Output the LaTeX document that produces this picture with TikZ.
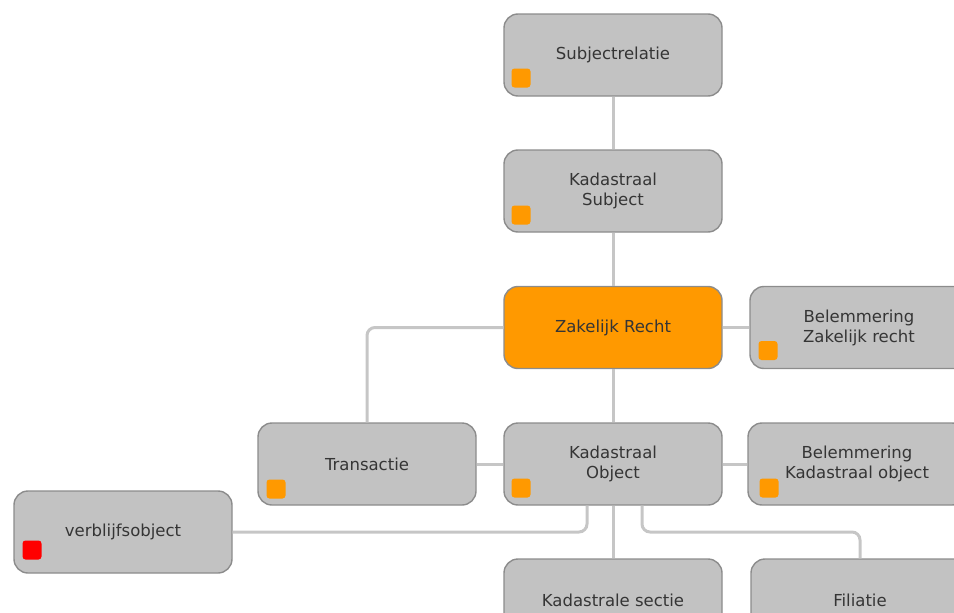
\documentclass[tikz,border=0pt]{standalone}
\usepackage{fontspec}
\setmainfont{DejaVu Sans}
\definecolor{boxgray}{HTML}{C2C2C2}
\definecolor{boxline}{HTML}{8C8C8C}
\definecolor{linkgray}{HTML}{C6C6C6}
\definecolor{txtgray}{HTML}{353535}
\definecolor{zrorange}{HTML}{FF9900}
\definecolor{flagred}{HTML}{FF0000}
\tikzset{
  entity/.style={rectangle, rounded corners=14pt, draw=boxline, line width=1.4pt,
    fill=boxgray, minimum width=218pt, minimum height=82pt, align=center,
    text=txtgray, font=\fontsize{16.5}{20}\selectfont},
  flag/.style={rectangle, rounded corners=3pt, fill=zrorange, inner sep=0pt,
    minimum size=19pt, anchor=south west},
  link/.style={draw=linkgray, line width=3pt, rounded corners=8pt}
}
\begin{document}
\begin{tikzpicture}[x=1pt, y=-1pt]
    \useasboundingbox (0,0) rectangle (954,613);
    \clip (0,0) rectangle (954,613);

    \node[entity] (sr) at (613,55) {Subjectrelatie};
    \node[flag] (sr-f) at ([shift={(8,-9)}]sr.south west) {};

    \node[entity] (ks) at (613,191) {Kadastraal\\Subject};
    \node[flag] (ks-f) at ([shift={(8,-8)}]ks.south west) {};

    \node[entity, fill=zrorange] (zr) at (613,327.5) {Zakelijk Recht};

    \node[entity] (bzr) at (859,327.5) {Belemmering\\Zakelijk recht};
    \node[flag] (bzr-f) at ([shift={(9,-9)}]bzr.south west) {};

    \node[entity] (tr) at (367,464) {Transactie};
    \node[flag] (tr-f) at ([shift={(9,-7)}]tr.south west) {};

    \node[entity] (ko) at (613,464) {Kadastraal\\Object};
    \node[flag] (ko-f) at ([shift={(8,-8)}]ko.south west) {};

    \node[entity] (bko) at (857,464) {Belemmering\\Kadastraal object};
    \node[flag] (bko-f) at ([shift={(12,-8)}]bko.south west) {};

    \node[entity] (vo) at (123,532) {verblijfsobject};
    \node[flag, fill=flagred] (vo-f) at ([shift={(9,-14)}]vo.south west) {};

    \node[entity] (ksec) at (613,600) {Kadastrale sectie};

    \node[entity] (fil) at (860,600) {Filiatie};

    \draw[link] (sr) -- (ks);
    \draw[link] (ks) -- (zr);
    \draw[link] (zr) -- (bzr);
    \draw[link] (zr) -- (ko);
    \draw[link] (zr.west) -| (tr.north);
    \draw[link] (tr) -- (ko);
    \draw[link] (ko) -- (bko);
    \draw[link] ([xshift=-26pt]ko.south) |- (vo.east);
    \draw[link] (ko.south) -- (ksec.north);
    \draw[link] ([xshift=29pt]ko.south) -- ([xshift=29pt]ko.south |- vo.east) -| (fil.north);
  \end{tikzpicture}
\end{document}
